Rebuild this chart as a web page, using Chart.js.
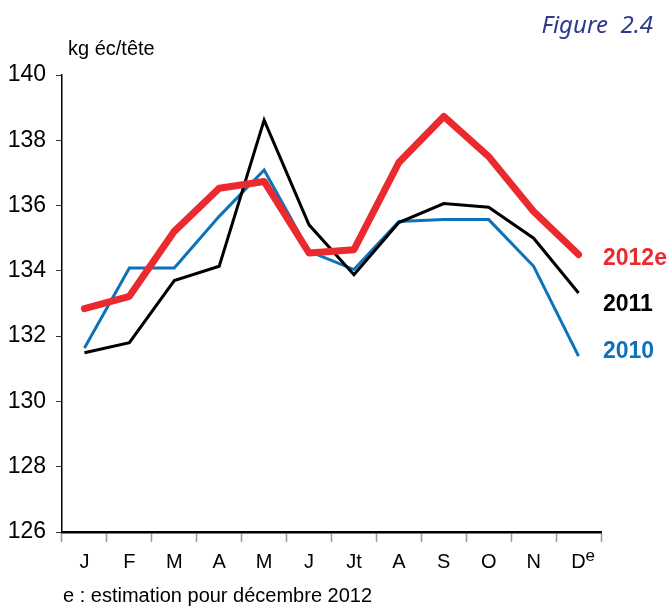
<!DOCTYPE html>
<html>
<head>
<meta charset="utf-8">
<script src="https://cdn.jsdelivr.net/npm/chart.js@4.4.0/dist/chart.umd.min.js"></script>
<style>
  html, body { margin: 0; padding: 0; background: #fff; }
  #wrap { position: relative; width: 667px; height: 606px; }
</style>
</head>
<body>
<div id="wrap"><canvas id="consoChart" width="667" height="606"></canvas></div>
<script>
// Mois (De = décembre estimé)
const months = ['J', 'F', 'M', 'A', 'M', 'J', 'Jt', 'A', 'S', 'O', 'N', 'De'];
const yTicks = [126, 128, 130, 132, 134, 136, 138, 140];

const conso2012e = [132.84, 133.22, 135.21, 136.53, 136.74, 134.55, 134.65, 137.32, 138.73, 137.5, 135.82, 134.5];
const conso2011 = [131.49, 131.8, 133.7, 134.14, 138.62, 135.41, 133.88, 135.48, 136.06, 135.95, 135.0, 133.32];
const conso2010 = [131.64, 134.09, 134.09, 135.67, 137.09, 134.6, 134.04, 135.51, 135.57, 135.57, 134.14, 131.39];

const seriesNames = ['2012e', '2011', '2010'];
const red = '#ea2a2e';
const blue = '#0d72b8';

const narrow = '"Liberation Sans Narrow", "Arial Narrow", "Liberation Sans", Arial, sans-serif';

// extra texts: unit, figure number, series names, footnote, superscript e
const textPlugin = {
    id: 'textPlugin',
    afterDraw(chart) {
        const ctx = chart.ctx;
        ctx.save();
        ctx.textBaseline = 'middle';
        ctx.textAlign = 'left';

        ctx.fillStyle = '#000';
        ctx.font = '20px ' + narrow;
        ctx.fillText('kg éc/tête', 68, 49);

        ctx.fillStyle = '#2e3a8c';
        ctx.font = 'italic 24px "Noto Sans", "Open Sans", sans-serif';
        ctx.textAlign = 'right';
        ctx.fillText('Figure  2.4', 653, 26);

        ctx.textAlign = 'left';
        ctx.font = 'bold 23px ' + narrow;
        ctx.fillStyle = red;
        ctx.fillText(seriesNames[0], 603, 259);
        ctx.fillStyle = '#000';
        ctx.fillText(seriesNames[1], 603, 305);
        ctx.fillStyle = blue;
        ctx.fillText(seriesNames[2], 603, 352);

        ctx.fillStyle = '#000';
        ctx.font = '20px ' + narrow;
        ctx.fillText('e : estimation pour décembre 2012', 63, 596);

        // superscript e after the last month label
        const x = chart.scales.x;
        const px = x.getPixelForTick(months.length - 1);
        ctx.font = '17px ' + narrow;
        ctx.fillText('e', px + 7, 556);
        ctx.restore();
    }
};

const ctx = document.getElementById('consoChart').getContext('2d');
new Chart(ctx, {
    type: 'line',
    data: {
        labels: months,
        datasets: [{
            label: seriesNames[2],
            data: conso2010,
            borderColor: blue,
            borderWidth: 3,
            pointRadius: 0,
            tension: 0,
            order: 3
        }, {
            label: seriesNames[1],
            data: conso2011,
            borderColor: '#000',
            borderWidth: 3,
            pointRadius: 0,
            tension: 0,
            order: 2
        }, {
            label: seriesNames[0],
            data: conso2012e,
            borderColor: red,
            borderWidth: 7,
            borderCapStyle: 'round',
            borderJoinStyle: 'round',
            pointRadius: 0,
            tension: 0,
            order: 1
        }]
    },
    options: {
        responsive: false,
        animation: false,
        layout: {
            padding: { top: 75, right: 66, bottom: 0, left: 0 }
        },
        plugins: {
            legend: { display: false },
            tooltip: { enabled: false }
        },
        scales: {
            x: {
                offset: true,
                grid: {
                    offset: true,
                    drawOnChartArea: false,
                    drawTicks: true,
                    tickLength: 10,
                    tickColor: '#999',
                    tickWidth: 1.5
                },
                border: { color: '#000', width: 2.5 },
                ticks: {
                    color: '#000',
                    padding: 8,
                    maxRotation: 0,
                    autoSkip: false,
                    font: { family: narrow, size: 20 },
                    callback: function(value) {
                        const l = months[value];
                        return l === 'De' ? 'D' : l;
                    }
                },
                afterFit: function(scale) { scale.height = 74; }
            },
            y: {
                min: 126,
                max: 140,
                afterBuildTicks: function(scale) {
                    scale.ticks = yTicks.map(v => ({ value: v }));
                },
                grid: {
                    drawOnChartArea: false,
                    drawTicks: true,
                    tickLength: 6,
                    tickColor: '#333',
                    tickWidth: 1
                },
                border: { color: '#000', width: 1.5 },
                ticks: {
                    color: '#000',
                    padding: 10,
                    font: { family: narrow, size: 23 }
                },
                afterFit: function(scale) { scale.width = 62; }
            }
        }
    },
    plugins: [textPlugin]
});
</script>
</body>
</html>
